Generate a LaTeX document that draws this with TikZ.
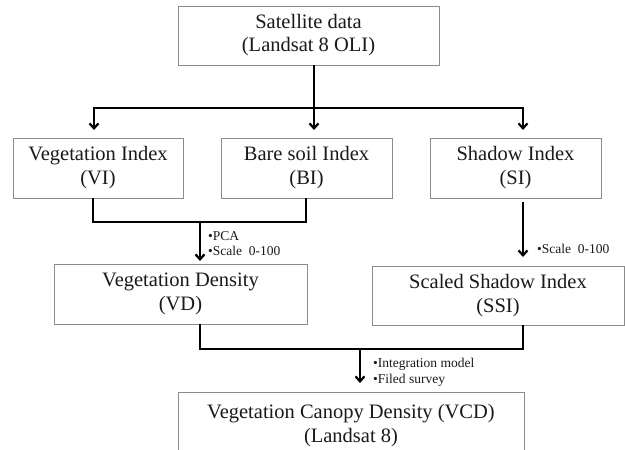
\documentclass[tikz,border=0pt]{standalone}
\usepackage{fontspec}
\setmainfont{Liberation Serif}
\usetikzlibrary{arrows.meta}
\definecolor{boxgray}{HTML}{8C8C8C}
\definecolor{txtcol}{HTML}{1A1A1A}
\begin{document}
\begin{tikzpicture}[x=1pt,y=-1pt,
  box/.style={draw=boxgray, line width=1pt, inner sep=0pt, outer sep=0pt, align=center,
    font=\fontsize{20.5}{24}\selectfont, text=txtcol},
  conn/.style={line width=2.2pt, draw=black},
  arr/.style={conn, -{Straight Barb[length=5pt,width=9pt]}},
  lbl/.style={inner sep=0pt, align=left, font=\fontsize{13.5}{15.5}\selectfont, text=txtcol}]
\clip (0,0) rectangle (625,450);
\fill[white] (0,0) rectangle (625,450);

\node[box, minimum width=261pt, minimum height=59pt] (sat) at (308.5,35.5) {Satellite data\\[-1pt](Landsat 8 OLI)};
\node[box, minimum width=170pt, minimum height=60pt] (vi) at (98,168) {Vegetation Index\\(VI)};
\node[box, minimum width=171pt, minimum height=60pt] (bi) at (306.5,168) {Bare soil Index\\(BI)};
\node[box, minimum width=171pt, minimum height=60pt] (si) at (515.5,168) {Shadow Index\\(SI)};
\node[box, minimum width=253pt, minimum height=60pt] (vd) at (180.5,294) {Vegetation Density\\(VD)};
\node[box, minimum width=252pt, minimum height=59pt] (ssi) at (498,295.5) {Scaled Shadow Index\\(SSI)};
\node[box, minimum width=346pt, minimum height=68pt] (vcd) at (351,426) {Vegetation Canopy Density (VCD)\\(Landsat 8)};

\coordinate (t) at (314,108);
\coordinate (a1) at (94,108);
\coordinate (a3) at (523,108);
\draw[conn] (sat.south -| t) -- (t);
\draw[arr, shorten >=8pt] (t) -| (vi.north -| a1);
\draw[arr, shorten >=8pt] (t) -- (bi.north -| t);
\draw[arr, shorten >=8pt] (t) -| (si.north -| a3);

\coordinate (b1) at (93,222);
\coordinate (b2) at (306,222);
\coordinate (j2) at (200,222);
\draw[conn] (vi.south -| b1) -- (b1) -- (b2) -- (bi.south -| b2);
\draw[arr, shorten >=3pt] (j2) -- (vd.north -| j2);

\draw[arr, shorten <=4pt, shorten >=9pt] (si.south -| a3) -- (ssi.north -| a3);

\coordinate (c1) at (200,349);
\coordinate (c2) at (523,349);
\coordinate (j3) at (360,349);
\draw[conn] (vd.south -| c1) -- (c1) -- (c2) -- (ssi.south -| c2);
\draw[arr, shorten >=9pt] (j3) -- (vcd.north -| j3);

\node[lbl, anchor=west] (l1) at (208,243.5) {•PCA\\•Scale\ \ 0-100};
\node[lbl, anchor=base west] (l2) at (537,253) {•Scale\ \ 0-100};
\node[lbl, anchor=west] (l3) at (373,372.5) {•Integration model\\•Filed survey};
\end{tikzpicture}
\end{document}
